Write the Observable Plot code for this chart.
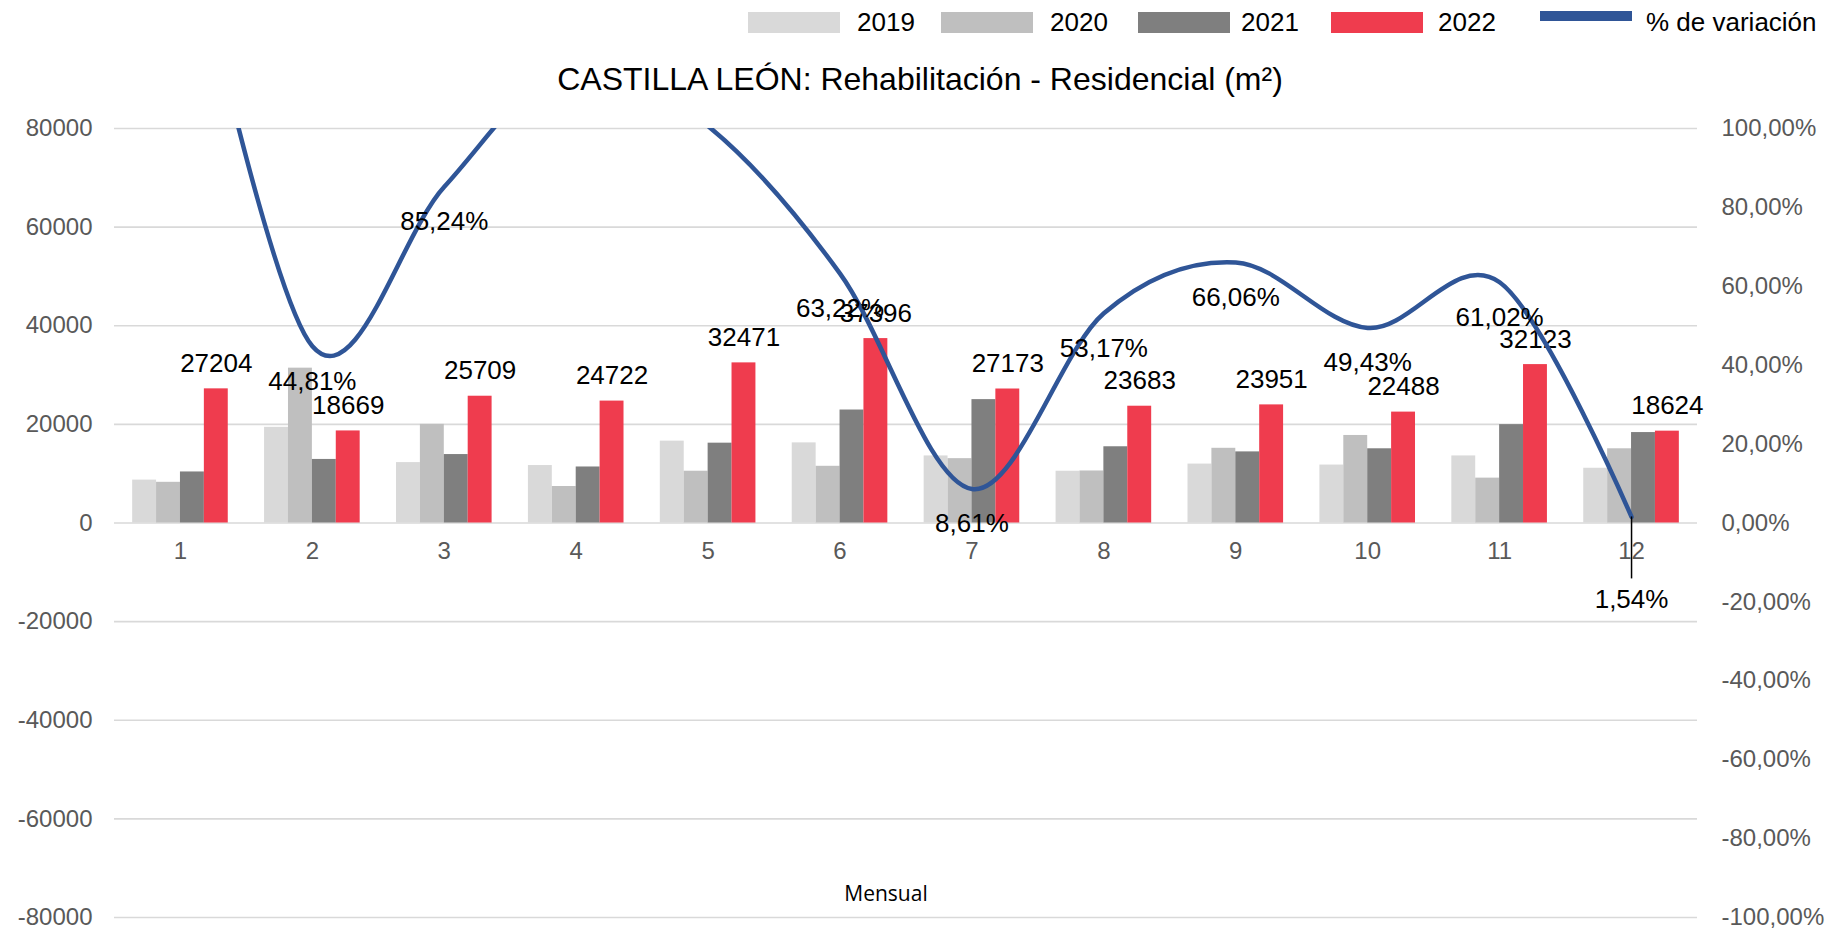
<!DOCTYPE html>
<html>
<head>
<meta charset="utf-8">
<script src="https://cdn.jsdelivr.net/npm/d3@7"></script>
<script src="https://cdn.jsdelivr.net/npm/@observablehq/plot@0.6"></script>
<style>
  html, body { margin: 0; padding: 0; background: #fff; }
  body { width: 1845px; height: 930px; overflow: hidden; font-family: "Liberation Sans", Arial, sans-serif; }
  #header { position: relative; width: 1845px; height: 100px; }
  .sw { position: absolute; }
  .lt { position: absolute; font-size: 26px; line-height: 26px; color: #000; white-space: nowrap; }
  #title { position: absolute; top: 63px; left: 920px; transform: translateX(-50%); font-size: 32px; line-height: 32px; color: #000; white-space: nowrap; }
</style>
</head>
<body>
<div id="header"></div>
<div id="chart"></div>
<script>
// ---- data ----
const months = ["1","2","3","4","5","6","7","8","9","10","11","12"];
const years = ["2019","2020","2021","2022"];
const v2019 = [8700, 19400, 12250, 11650, 16600, 16250, 13600, 10500, 11950, 11750, 13600, 11100];
const v2020 = [8250, 31400, 20000, 7400, 10500, 11500, 13050, 10550, 15150, 17750, 9100, 15050];
const v2021 = [10350, 12890, 13880, 11360, 16190, 22910, 25020, 15460, 14420, 15050, 19950, 18340];
const v2022 = [27204, 18669, 25709, 24722, 32471, 37396, 27173, 23683, 23951, 22488, 32123, 18624];
const pctVar = [163.0, 44.81, 85.24, 117.6, 100.6, 63.22, 8.61, 53.17, 66.06, 49.43, 61.02, 1.54];
const leftTicks = [-80000, -60000, -40000, -20000, 0, 20000, 40000, 60000, 80000];
const rightTicksPct = [-100, -80, -60, -40, -20, 0, 20, 40, 60, 80, 100];
const titleText = "CASTILLA LEÓN: Rehabilitación - Residencial (m²)";
const lineLabel = "% de variación";
const xLabel = "Mensual";

// ---- styles ----
const colors = ["#D9D9D9", "#BFBFBF", "#7F7F7F", "#EF3C4E"];
const lineColor = "#2F5597";
const series = [v2019, v2020, v2021, v2022];

// header (legend + title)
const header = document.getElementById("header");
const legendPos = [[748, 857], [941, 1050], [1138, 1241], [1331, 1438]];
years.forEach((y, i) => {
  const s = document.createElement("div");
  s.className = "sw";
  Object.assign(s.style, {left: legendPos[i][0] + "px", top: "12px", width: "92px", height: "21px", background: colors[i]});
  header.appendChild(s);
  const t = document.createElement("div");
  t.className = "lt";
  t.textContent = y;
  Object.assign(t.style, {left: legendPos[i][1] + "px", top: "9px"});
  header.appendChild(t);
});
{
  const s = document.createElement("div");
  s.className = "sw";
  Object.assign(s.style, {left: "1540px", top: "11px", width: "92px", height: "10px", background: lineColor});
  header.appendChild(s);
  const t = document.createElement("div");
  t.className = "lt";
  t.textContent = lineLabel;
  Object.assign(t.style, {left: "1646px", top: "9px"});
  header.appendChild(t);
  const ti = document.createElement("div");
  ti.id = "title";
  ti.textContent = titleText;
  header.appendChild(ti);
}

// ---- chart ----
const W = 1845, H = 830;
const mL = 114, mR = 148, mT = 28, mB = 13;
const bw = (W - mL - mR) / months.length;   // band width
const barW = 23.9;
const off = (bw - 4 * barW) / 2;
const scaleFactor = 80000 / 100; // 100% on right axis == 80000 on left axis

const barMarks = series.map((vals, i) => Plot.barY(
  months.map((m, j) => ({month: m, value: vals[j]})),
  {x: "month", y: "value", fill: colors[i],
   insetLeft: off + i * barW, insetRight: bw - off - (i + 1) * barW}
));

const rows2022 = months.map((m, j) => ({month: m, value: v2022[j]}));
const pctRows = months.map((m, j) => ({month: m, pct: pctVar[j], y: pctVar[j] * scaleFactor}));
const fmtPct = p => p.toFixed(2).replace(".", ",") + "%";
const shownPct = pctRows.filter(d => d.pct <= 100);
const lastMonth = months[months.length - 1];

const chart = Plot.plot({
  width: W, height: H,
  marginLeft: mL, marginRight: mR, marginTop: mT, marginBottom: mB,
  style: {fontFamily: "'Liberation Sans', Arial, sans-serif", fontSize: "24px", background: "transparent", overflow: "visible"},
  x: {type: "band", domain: months, padding: 0, round: false, axis: null},
  y: {domain: [-80000, 80000], axis: null},
  marks: [
    Plot.gridY(leftTicks, {stroke: "#D9D9D9", strokeOpacity: 1, strokeWidth: 1.6}),
    ...barMarks,
    Plot.axisY(leftTicks, {anchor: "left", tickSize: 0, tickPadding: 22, fill: "#595959", fontSize: 24, label: null, tickFormat: d => String(d)}),
    Plot.axisY(rightTicksPct.map(p => p * scaleFactor), {anchor: "right", tickSize: 0, tickPadding: 24, fill: "#595959", fontSize: 24, label: null, tickFormat: d => fmtPct(d / scaleFactor)}),
    Plot.text(months, {x: d => d, y: () => 0, dy: 28, text: d => d, fill: "#595959", fontSize: 24}),
    Plot.text(rows2022, {x: "month", y: "value", text: d => String(d.value), dx: off + 3.5 * barW - bw / 2, dy: -17, lineAnchor: "bottom", fill: "#000", fontSize: 26}),
    Plot.line(pctRows, {x: "month", y: "y", stroke: lineColor, strokeWidth: 4.5, curve: "cardinal", clip: true}),
    Plot.ruleX(shownPct.filter(d => d.month === lastMonth), {x: "month", y1: "y", y2: "y", insetBottom: -62, stroke: "#000", strokeWidth: 1.5}),
    Plot.text(shownPct.filter(d => d.month !== lastMonth), {x: "month", y: "y", text: d => fmtPct(d.pct), dy: 35, fill: "#000", fontSize: 26}),
    Plot.text(shownPct.filter(d => d.month === lastMonth), {x: "month", y: "y", text: d => fmtPct(d.pct), dy: 83, fill: "#000", fontSize: 26}),
    Plot.text([xLabel], {frameAnchor: "bottom", text: d => d, dx: -20, dy: -17, fill: "#000", fontSize: 21, fontFamily: "'Open Sans', sans-serif"})
  ]
});
document.getElementById("chart").appendChild(chart);
</script>
</body>
</html>
